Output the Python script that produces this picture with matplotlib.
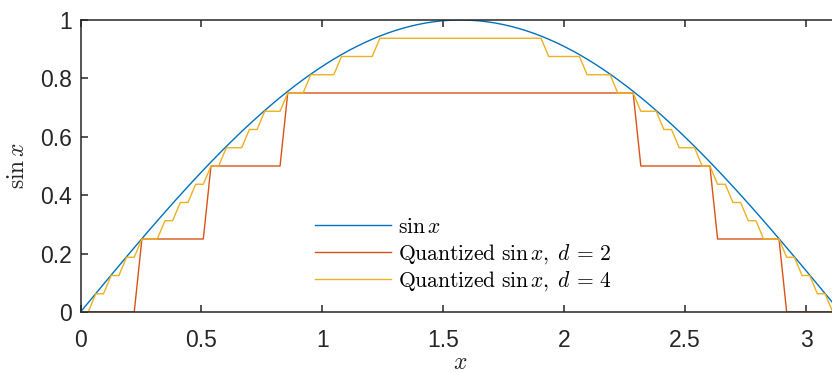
# sin x and its quantized versions for d = 2 and d = 4 bits
import numpy as np
import matplotlib.pyplot as plt

plt.rcParams['font.family'] = ['Liberation Sans', 'DejaVu Sans']
plt.rcParams['mathtext.fontset'] = 'cm'

x = np.linspace(0, np.pi, 100)
depths = [2, 4]
colors = ['#0072BD', '#D95319', '#EDB120']
xticks = [0, 0.5, 1, 1.5, 2, 2.5, 3]
yticks = [0, 0.2, 0.4, 0.6, 0.8, 1]

y = np.sin(x)

W, H = 832, 373
fig = plt.figure(figsize=(W / 100, H / 100), dpi=100)
# axes runs a little past the right edge of the figure
left, right, top, bottom = 80.5, 840.4, 20, 312
ax = fig.add_axes([left / W, 1 - bottom / H, (right - left) / W, (bottom - top) / H])

ax.plot(x, y, color=colors[0], lw=1.0, label=r'$\sin x$')
for d, c in zip(depths, colors[1:]):
    q = np.floor(y * 2**d) / 2**d
    ax.plot(x, q, color=c, lw=1.0,
            label=r'$\mathrm{Quantized}\ \sin x,\; d\,=\,%d$' % d)

ax.set_xlim(0, np.pi)
ax.set_ylim(0, 1)
ax.set_xticks(xticks)
ax.set_xticklabels(['0', '0.5', '1', '1.5', '2', '2.5', '3'])
ax.set_yticks(yticks)
ax.set_yticklabels(['0', '0.2', '0.4', '0.6', '0.8', '1'])

dark = '#262626'
for s in ax.spines.values():
    s.set_color(dark)
    s.set_linewidth(1.1)
ax.tick_params(direction='in', length=5, width=1.1, colors=dark,
               labelsize=16.5, top=True, right=True)
ax.tick_params(axis='x', pad=12)
ax.tick_params(axis='y', pad=6)

ax.set_xlabel(r'$x$', fontsize=17, color=dark, labelpad=0)
ax.set_ylabel(r'$\sin x$', fontsize=17, color=dark, labelpad=8)

leg = ax.legend(loc='upper left', bbox_to_anchor=(315 / W, 1 - 217 / H),
                bbox_transform=fig.transFigure, frameon=False, fontsize=15.5,
                handlelength=3.55, handletextpad=0.3, labelspacing=0.18,
                borderaxespad=0, borderpad=0)

fig.savefig('out.png', dpi=100)
